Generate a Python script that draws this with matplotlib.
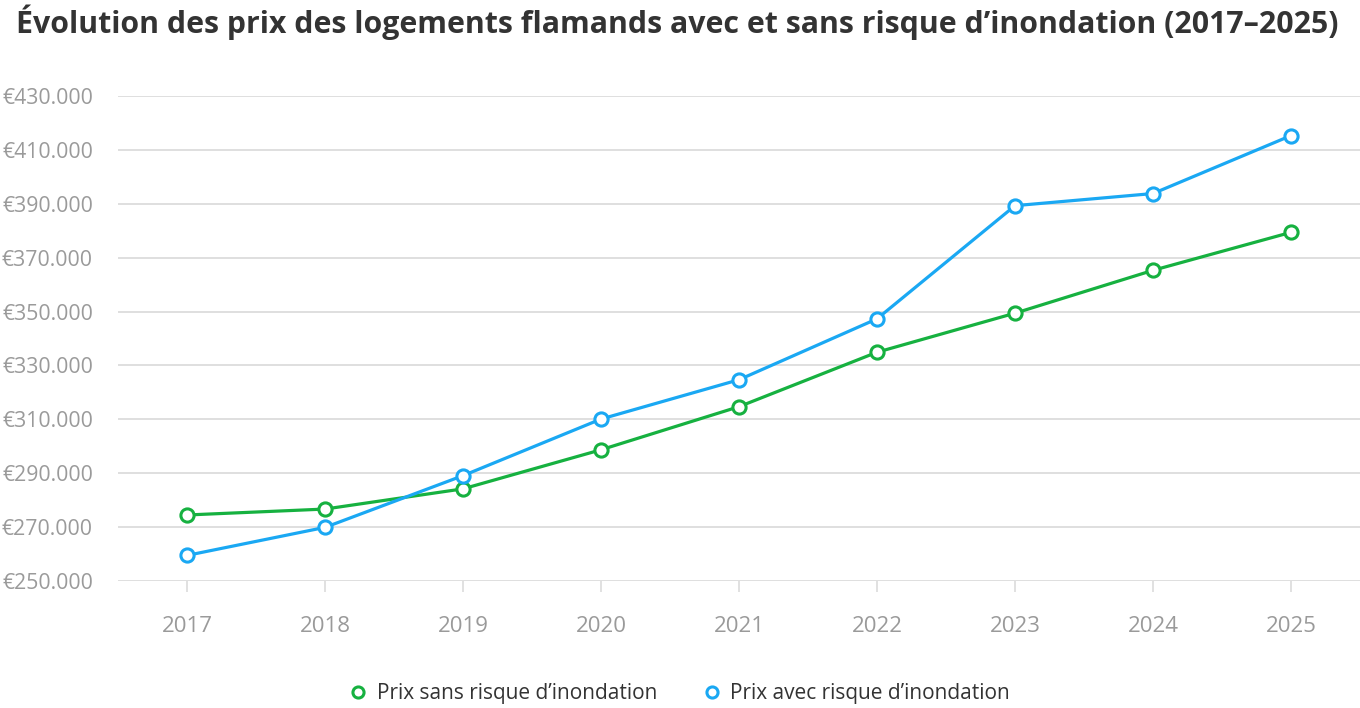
import matplotlib
matplotlib.use('agg')
import matplotlib.pyplot as plt
from matplotlib.ticker import FuncFormatter

# data
years = ['2017', '2018', '2019', '2020', '2021', '2022', '2023', '2024', '2025']
prix_sans = [274500, 276700, 284200, 298700, 314700, 334900, 349400, 365300, 379400]
prix_avec = [259500, 269900, 289100, 310100, 324700, 347300, 389300, 393800, 415300]
labels = ["Prix sans risque d\u2019inondation", "Prix avec risque d\u2019inondation"]

green = '#16b140'
blue = '#1aa8f3'
grey = '#9a9a9a'

plt.rcParams['font.family'] = ['Open Sans', 'DejaVu Sans']

fig = plt.figure(figsize=(13.6, 7.08), dpi=100)
ax = fig.add_axes([118/1360, 1-581/708, 1-118/1360, (581-96)/708])

x = range(len(years))
for vals, col, lab in [(prix_sans, green, labels[0]), (prix_avec, blue, labels[1])]:
    ax.plot(x, vals, color=col, lw=2.3, marker='o', ms=9.5, mew=2.2,
            mfc='white', mec=col, label=lab, clip_on=False, zorder=3)

ax.set_xlim(-0.5, len(years)-0.5)
ax.set_ylim(250000, 430000)
ax.set_yticks(range(250000, 430001, 20000))
ax.yaxis.set_major_formatter(FuncFormatter(lambda v, p: '\u20ac' + f'{v:,.0f}'.replace(',', '.')))
ax.set_xticks(list(x))
ax.set_xticklabels(years)

ax.grid(axis='y', color='#dcdcdc', lw=1.3)
ax.set_axisbelow(True)
for s in ax.spines.values():
    s.set_visible(False)
ax.tick_params(axis='y', length=0, pad=18, labelsize=15.3, labelcolor=grey)
ax.tick_params(axis='x', length=8, width=1.2, color='#dcdcdc', pad=17,
               labelsize=16, labelcolor=grey, direction='out')

fig.text(16/1360, 1-22/708, "\u00c9volution des prix des logements flamands avec et sans risque d\u2019inondation (2017\u20132025)",
         fontsize=21.8, fontweight='bold', color='#333333', va='center', ha='left')

leg = fig.legend(loc='center', bbox_to_anchor=(0.5, 1-694/708), ncol=2, frameon=False,
                 fontsize=15, handlelength=0.8, handletextpad=0.5, columnspacing=2.2,
                 labelcolor='#333333')
for h in leg.legend_handles:
    h.set_linestyle('none')
    h.set_markersize(8)
    h.set_markeredgewidth(2.2)

plt.savefig('out.png', dpi=100)
